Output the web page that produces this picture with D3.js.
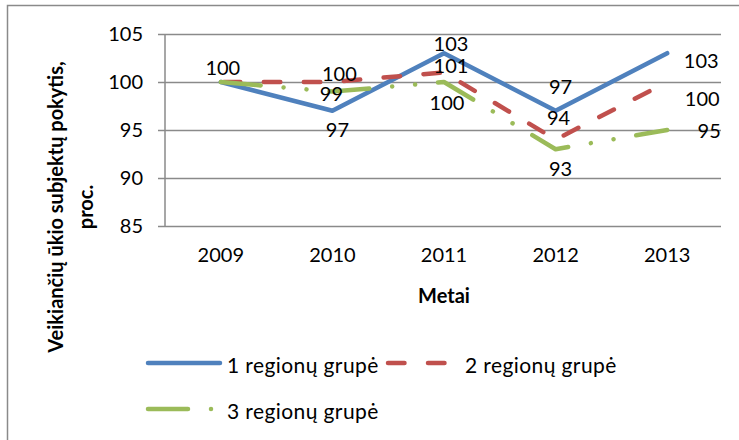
<!DOCTYPE html>
<html><head><meta charset="utf-8">
<script src="https://cdn.jsdelivr.net/npm/d3@7"></script>
<style>body{margin:0;background:#fff}svg{display:block}text{font-family:Lato,"Open Sans",sans-serif;fill:#000}</style>
</head><body>
<svg id="c" width="739" height="440"></svg>
<script>
const years = ["2009","2010","2011","2012","2013"];
const seriesNames = ["1 regionų grupė","2 regionų grupė","3 regionų grupė"];
const group1 = [100,97,103,97,103];
const group2 = [100,100,101,94,100];
const group3 = [100,99,100,93,95];
const yTicks = [85,90,95,100,105];
// label offsets (dx, dy) from each point, as placed in the reference (null = label coincides with another)
const labelOffsets1 = [[2,-15],[5,18],[7,-10],[5,-25],[34,7]];
const labelOffsets2 = [null,[7,-9],[7,-7],[3,-23],[35,16]];
const labelOffsets3 = [null,[-1,1],[3,20],[5,19],[42,0]];

const colors = ["#4F81BD","#C0504D","#9BBB59"];
const dashes = [null,"16.5,23.5","40,23,0.01,23,0.01,23"];
const dashOffsets = [0,-3,0];

const svg = d3.select("#c");
const pLeft=165,pRight=723,pTop=34,pBottom=226,gridRight=721;
const x = d3.scaleBand().domain(years).range([pLeft,pRight]);
const cx = d => x(d)+x.bandwidth()/2;
const y = d3.scaleLinear().domain([85,105]).range([pBottom,pTop]);
const grey="#8a8a8a";

// outer border
svg.append("rect").attr("x",7.5).attr("y",5.5).attr("width",800).attr("height",500)
  .attr("fill","none").attr("stroke",grey).attr("stroke-width",1.5);

// y axis with gridlines
const ya = svg.append("g").attr("transform",`translate(158,0)`)
  .call(d3.axisLeft(y).tickValues(yTicks).tickSize(-(gridRight-158)).tickPadding(15));
ya.select(".domain").remove();
ya.selectAll("line").attr("stroke",grey).attr("stroke-width",1.5);
ya.selectAll("text").style("font-family","Lato").style("font-size","20px").attr("fill","#000");

svg.append("line").attr("x1",pLeft).attr("x2",pLeft).attr("y1",pTop).attr("y2",pBottom)
  .attr("stroke",grey).attr("stroke-width",1.5);

// x axis
const xa = svg.append("g").attr("transform",`translate(0,${pBottom})`)
  .call(d3.axisBottom(x).tickSize(0).tickPadding(22));
xa.select(".domain").remove();
xa.selectAll("text").style("font-family","Lato").style("font-size","20px").attr("fill","#000");

// axis titles
svg.append("text").attr("x",(pLeft+pRight)/2).attr("y",303).attr("text-anchor","middle")
  .style("font-size","20px").style("font-weight","bold").text("Metai");
const yt = svg.append("text").attr("transform","translate(63,207) rotate(-90)")
  .attr("text-anchor","middle").style("font-size","20px").style("font-weight","bold");
yt.append("tspan").attr("x",0).attr("y",0).text("Veikiančių ūkio subjektų pokytis,");
yt.append("tspan").attr("x",0).attr("y",30).text("proc.");

// lines
const all = [group1,group2,group3];
const offs = [labelOffsets1,labelOffsets2,labelOffsets3];
const line = d3.line().x((d,i)=>cx(years[i])).y(d=>y(d));
all.forEach((s,k)=>{
  svg.append("path").datum(s).attr("d",line).attr("fill","none")
    .attr("stroke",colors[k]).attr("stroke-width",4.5)
    .attr("stroke-linecap","round").attr("stroke-linejoin","round")
    .attr("stroke-dasharray",dashes[k]).attr("stroke-dashoffset",dashOffsets[k]);
});
all.forEach((s,k)=>{
  const pts = s.map((v,i)=>({v,i,o:offs[k][i]})).filter(p=>p.o);
  svg.append("g").selectAll("text").data(pts).join("text")
    .attr("x",p=>cx(years[p.i])+p.o[0])
    .attr("y",p=>y(p.v)+p.o[1])
    .attr("text-anchor","middle").attr("dominant-baseline","central")
    .style("font-size","20px").text(p=>p.v);
});

// legend
const leg = [[148,363],[388,363],[148,409]];
const legText = [[227,364],[465,364],[227,410]];
seriesNames.forEach((n,k)=>{
  svg.append("line").attr("x1",leg[k][0]).attr("x2",leg[k][0]+72)
    .attr("y1",leg[k][1]).attr("y2",leg[k][1])
    .attr("stroke",colors[k]).attr("stroke-width",4.5).attr("stroke-linecap","round")
    .attr("stroke-dasharray",dashes[k]);
  svg.append("text").attr("x",legText[k][0]).attr("y",legText[k][1])
    .attr("dominant-baseline","central").style("font-size","21px")
    .style("letter-spacing","0.4px").text(n);
});
</script>
</body></html>
